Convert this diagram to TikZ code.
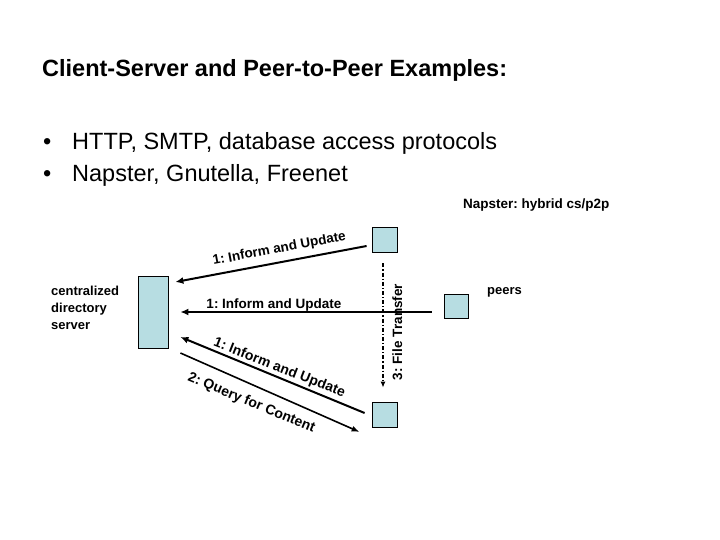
\documentclass[tikz,border=0pt]{standalone}
\usepackage{fontspec}
\setmainfont{Liberation Sans}
\usetikzlibrary{arrows.meta,calc}
\frenchspacing
\definecolor{boxblue}{RGB}{183,221,226}
\tikzset{
  box/.style={draw=black,line width=0.8pt,fill=boxblue,inner sep=0pt},
  arr/.style={line width=2pt,-{Latex[length=8pt,width=7pt]}},
  qarr/.style={line width=1.6pt,-{Latex[length=8pt,width=6pt]}},
  ftarr/.style={line width=1.4pt,dash pattern=on 4pt off 2pt on 1.2pt off 2pt,-{Latex[length=6pt,width=5pt]}},
  lbl/.style={font=\fontsize{13.5}{15}\selectfont\bfseries,inner sep=0pt,anchor=base},
  bigl/.style={font=\fontsize{14}{16}\selectfont\bfseries,inner sep=0pt,anchor=base},
  txt/.style={inner sep=0pt,anchor=base west},
}
\begin{document}
\begin{tikzpicture}[x=1pt,y=-1pt]
\useasboundingbox[fill=white] (0,0) rectangle (720,540);
% title and bullets
\node[txt,font=\fontsize{23.5}{26}\selectfont\bfseries] (title) at (42,77) {Client-Server and Peer-to-Peer Examples:};
\node[txt,font=\fontsize{23.5}{26}\selectfont] (b1) at (43,150) {\textbullet};
\node[txt,font=\fontsize{23.5}{26}\selectfont] (t1) at (72,150) {HTTP, SMTP, database access protocols};
\node[txt,font=\fontsize{23.5}{26}\selectfont] (b2) at (43,182) {\textbullet};
\node[txt,font=\fontsize{23.5}{26}\selectfont] (t2) at (72,182) {Napster, Gnutella, Freenet};
\node[txt,font=\fontsize{13.5}{15}\selectfont\bfseries] (nap) at (463,209) {Napster: hybrid cs/p2p};
% boxes
\node[box,minimum width=30pt,minimum height=72pt] (server) at (153,312) {};
\node[box,minimum width=25pt,minimum height=25pt] (p1) at (384.5,239.5) {};
\node[box,minimum width=24pt,minimum height=24pt] (p2) at (456,306) {};
\node[box,minimum width=25pt,minimum height=25pt] (p3) at (384.5,414.5) {};
% side texts
\node[txt,font=\fontsize{13}{15}\selectfont\bfseries] (peers) at (487,294) {peers};
\node[txt,font=\fontsize{13}{17}\selectfont\bfseries,align=left,anchor=north west] (srvtxt) at (51,286) {centralized\\directory\\server};
% connectors
\draw[arr] ($(p1.west)+(-5,6.5)$) -- ($(server.east)+(7,-30)$);
\draw[arr] ($(p2.west)+(-12,6)$) -- ($(server.east)+(12,0)$);
\draw[arr] ($(p3.west)+(-7,-1.5)$) -- ($(server.east)+(12,25)$);
\draw[qarr] ($(server.east)+(12,41)$) -- ($(p3.west)+(-12,17.5)$);
\draw[ftarr] ($(p1.south)+(-1.5,11)$) -- ($(p3.north)+(-1.5,-14)$);
% labels
\node[lbl,rotate=10.6] (l1) at (280,252.5) {1: Inform and Update};
\node[lbl] (l2) at (274,308) {1: Inform and Update};
\node[bigl,rotate=-21.5] (l3) at (278,371.5) {1: Inform and Update};
\node[bigl,rotate=-22.5] (l4) at (250,406.5) {2: Query for Content};
\node[lbl,rotate=90] (l5) at (402,332) {3: File Transfer};
\end{tikzpicture}
\end{document}
